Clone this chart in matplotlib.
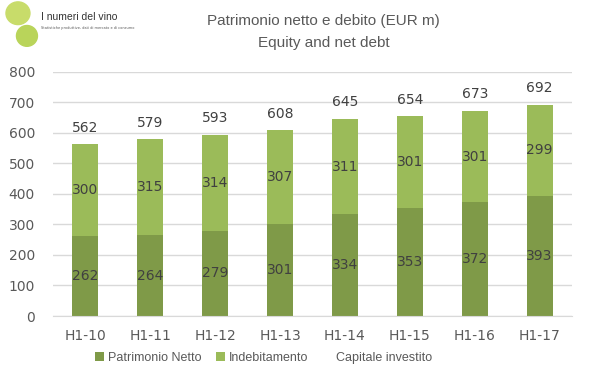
import matplotlib
matplotlib.use("Agg")
import matplotlib.pyplot as plt
from matplotlib.patches import Ellipse

# data
periods = ["H1-10", "H1-11", "H1-12", "H1-13", "H1-14", "H1-15", "H1-16", "H1-17"]
equity = [262, 264, 279, 301, 334, 353, 372, 393]
debt = [300, 315, 314, 307, 311, 301, 301, 299]
invested = [562, 579, 593, 608, 645, 654, 673, 692]

dark_green = "#7F9A48"
light_green = "#9BBB59"
grey = "#595959"
narrow = ["Liberation Sans Narrow", "Liberation Sans", "DejaVu Sans"]

fig = plt.figure(figsize=(5.99, 3.78), dpi=100)
ax = fig.add_axes([0.0885, 0.164, 0.8665, 0.646])

x = range(len(periods))
b1 = ax.bar(x, equity, width=0.4, color=dark_green, label="Patrimonio Netto", zorder=2)
b2 = ax.bar(x, debt, width=0.4, bottom=equity, color=light_green, label="Indebitamento", zorder=2)
line, = ax.plot(x, invested, color="none", label="Capitale investito")

ax.bar_label(b1, label_type="center", fontsize=10, color="#404040")
ax.bar_label(b2, label_type="center", fontsize=10, color="#404040")
for i, v in enumerate(invested):
    ax.annotate(str(v), (i, v), xytext=(0, 7), textcoords="offset points",
                ha="center", va="bottom", fontsize=10, color="#404040")

ax.set_xlim(-0.5, len(periods) - 0.5)
ax.set_ylim(0, 800)
ax.set_yticks(range(0, 801, 100))
ax.set_xticks(list(x))
ax.set_xticklabels(periods)
ax.grid(axis="y", color="#D9D9D9", linewidth=1, zorder=0)
for s in ["top", "right", "left"]:
    ax.spines[s].set_visible(False)
ax.spines["bottom"].set_color("#D9D9D9")
ax.tick_params(length=0, labelsize=10, colors=grey, pad=9)
ax.tick_params(axis="y", pad=13)

fig.text(0.54, 0.945, "Patrimonio netto e debito (EUR m)", ha="center", va="center",
         fontsize=11, color=grey, family=narrow)
fig.text(0.54, 0.885, "Equity and net debt", ha="center", va="center",
         fontsize=11, color=grey, family=narrow)

leg = fig.legend([b1, b2, line], ["Patrimonio Netto", "Indebitamento", "Capitale investito"],
                 loc="center", bbox_to_anchor=(0.44, 0.053), ncol=3, frameon=False,
                 handlelength=0.7, handleheight=0.7, handletextpad=0.3, columnspacing=1.2,
                 prop={"family": narrow, "size": 9})
for t in leg.get_texts():
    t.set_color(grey)

# small logo in the corner
fig.patches.append(Ellipse((0.03, 0.965), 0.04, 0.06, transform=fig.transFigure,
                           color="#C8DC6A", zorder=3))
fig.patches.append(Ellipse((0.045, 0.905), 0.035, 0.055, transform=fig.transFigure,
                           color="#B9D45A", zorder=3))
fig.text(0.068, 0.955, "I numeri del vino", fontsize=7.5, color="#333333",
         family=narrow, va="center")
fig.text(0.068, 0.925, "Statistiche produttive, dati di mercato e di consumo", fontsize=2.5,
         color="#555555", va="center")

fig.savefig("out.png", dpi=100)
